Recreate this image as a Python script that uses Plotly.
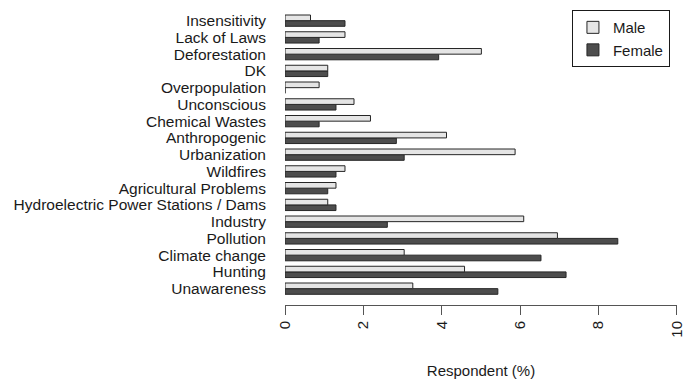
import plotly.graph_objects as go

# Causes, listed top to bottom as shown on the chart
causes = [
    "Insensitivity", "Lack of Laws", "Deforestation", "DK", "Overpopulation",
    "Unconscious", "Chemical Wastes", "Anthropogenic", "Urbanization",
    "Wildfires", "Agricultural Problems", "Hydroelectric Power Stations / Dams",
    "Industry", "Pollution", "Climate change", "Hunting", "Unawareness",
]

# Share of respondents (%) by gender
male = [0.65, 1.53, 5.01, 1.09, 0.87, 1.76, 2.18, 4.12, 5.87,
        1.53, 1.30, 1.09, 6.09, 6.95, 3.04, 4.58, 3.26]
female = [1.53, 0.87, 3.92, 1.09, 0.0, 1.30, 0.87, 2.84, 3.04,
          1.30, 1.09, 1.30, 2.61, 8.49, 6.53, 7.17, 5.43]

x_ticks = [0, 2, 4, 6, 8, 10]

FONT = "Liberation Sans, Arial, sans-serif"
edge = dict(color="#262626", width=1)

fig = go.Figure()
# Female first so it sits below Male inside each group
fig.add_trace(go.Bar(y=causes, x=female, name="Female", orientation="h",
                     marker=dict(color="#4d4d4d", line=edge)))
fig.add_trace(go.Bar(y=causes, x=male, name="Male", orientation="h",
                     marker=dict(color="#e5e5e5", line=edge)))

fig.update_layout(
    width=684, height=385,
    margin=dict(l=285, r=7, t=5, b=80),
    paper_bgcolor="white", plot_bgcolor="white",
    barmode="group", bargap=0.325, bargroupgap=0,
    font=dict(family=FONT, size=15, color="#1a1a1a"),
    showlegend=True,
    legend=dict(
        x=0.982, xanchor="right", y=0.983, yanchor="top",
        traceorder="reversed",
        bordercolor="#1a1a1a", borderwidth=1, bgcolor="white",
        font=dict(family=FONT, size=15, color="#1a1a1a"),
        tracegroupgap=0, itemwidth=30,
    ),
    xaxis=dict(
        range=[-0.0005, 10.0005], tickmode="array", tickvals=x_ticks,
        ticktext=[str(t) for t in x_ticks], ticklabeloverflow="allow",
        tickangle=-90, ticks="outside", ticklen=9, tickwidth=1, tickcolor="#555",
        showline=True, linecolor="#555", linewidth=1,
        showgrid=False, zeroline=False,
        tickfont=dict(family=FONT, size=15, color="#1a1a1a"),
        title=dict(text="Respondent (%)", standoff=28,
                   font=dict(family=FONT, size=15, color="#1a1a1a")),
        automargin=False,
    ),
    yaxis=dict(
        type="category", categoryorder="array", categoryarray=causes[::-1],
        tickmode="array", tickvals=causes, ticktext=causes,
        range=[-0.976, 16.935],
        showline=False, showgrid=False, zeroline=False, ticks="",
        ticklabelstandoff=18,
        tickfont=dict(family=FONT, size=15.5, color="#1a1a1a"),
        automargin=False,
    ),
)

fig.write_html("out.html")
